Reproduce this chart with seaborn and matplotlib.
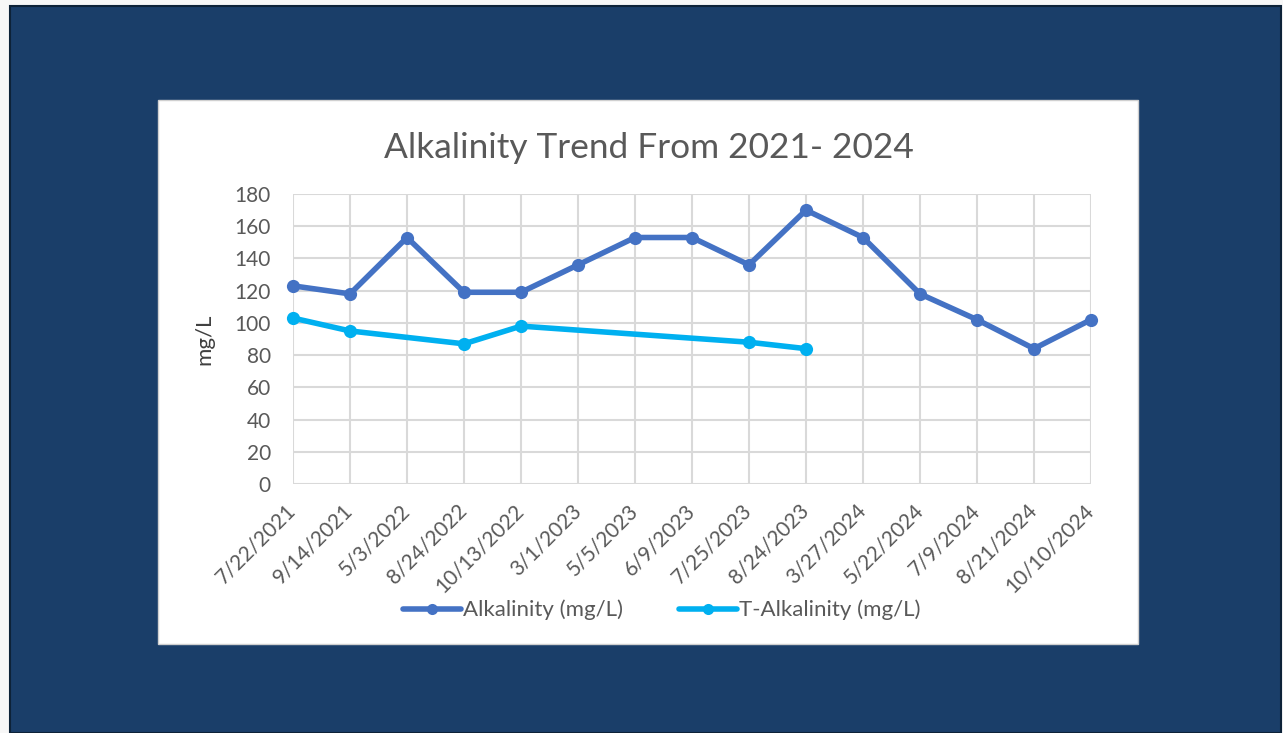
import numpy as np
import pandas as pd
import matplotlib
matplotlib.use("Agg")
import matplotlib.pyplot as plt
from matplotlib.patches import Rectangle
from matplotlib.lines import Line2D
import seaborn as sns

dates = ["7/22/2021", "9/14/2021", "5/3/2022", "8/24/2022", "10/13/2022",
         "3/1/2023", "5/5/2023", "6/9/2023", "7/25/2023", "8/24/2023",
         "3/27/2024", "5/22/2024", "7/9/2024", "8/21/2024", "10/10/2024"]
alkalinity = [123, 118, 153, 119, 119, 136, 153, 153, 136, 170, 153, 118, 102, 84, 102]
t_alkalinity = [103, 95, None, 87, 98, None, None, None, 88, 84, None, None, None, None, None]
y_ticks = [0, 20, 40, 60, 80, 100, 120, 140, 160, 180]

title = "Alkalinity Trend From 2021- 2024"
y_label = "mg/L"
series_names = ["Alkalinity (mg/L)", "T-Alkalinity (mg/L)"]
colors = ["#4472C4", "#00B0F0"]

sns.set_theme(style="white")
plt.rcParams["font.family"] = ["Lato", "DejaVu Sans"]

W, H = 1283, 733
fig = plt.figure(figsize=(W / 100, H / 100), dpi=100)
fig.patch.set_facecolor("#f7f7f7")

# slide background and white chart panel
fig.add_artist(Rectangle((10 / W, 0), (W - 12) / W, (H - 6) / H, transform=fig.transFigure,
                         facecolor="#1a3e69", edgecolor="#0d2238", linewidth=1.5, zorder=0))
fig.add_artist(Rectangle((158 / W, 1 - 644 / H), 980 / W, 544 / H, transform=fig.transFigure,
                         facecolor="white", edgecolor="#d0d0d0", linewidth=1, zorder=0))

ax = fig.add_axes([293 / W, 1 - 484 / H, (1091 - 293) / W, (484 - 194) / H])
ax.set_facecolor("none")

x_pos = np.arange(len(dates))
df_a = pd.DataFrame({"x": x_pos, "value": alkalinity})
t_vals = pd.Series(t_alkalinity, dtype="float")
df_t = pd.DataFrame({"x": x_pos, "value": t_vals}).dropna()

sns.lineplot(data=df_a, x="x", y="value", ax=ax, color=colors[0], linewidth=4,
             marker="o", markersize=9.5, markeredgewidth=0, zorder=4, clip_on=False)
sns.lineplot(data=df_t, x="x", y="value", ax=ax, color=colors[1], linewidth=4,
             marker="o", markersize=9.5, markeredgewidth=0, zorder=3, clip_on=False)

ax.set_xlim(0, len(dates) - 1)
ax.set_ylim(0, 180)
ax.set_yticks(y_ticks)
ax.set_xticks(x_pos)
ax.set_xticklabels(dates, rotation=45, ha="right", va="center", rotation_mode="anchor")
ax.tick_params(axis="both", length=0, labelsize=15, labelcolor="#595959")
ax.tick_params(axis="x", pad=17)
ax.tick_params(axis="y", pad=16)
ax.grid(True, color="#d9d9d9", linewidth=1.5)
for s in ax.spines.values():
    s.set_visible(False)
ax.set_xlabel("")
ax.set_ylabel(y_label, fontsize=16, color="#404040")
ax.yaxis.set_label_coords(-0.098, 0.5)

fig.text(649 / W, 1 - 148 / H, title, ha="center", va="center", fontsize=25.4, color="#595959")

handles = [Line2D([0], [0], color=c, linewidth=4, marker="o", markersize=8, markeredgewidth=0)
           for c in colors]
fig.legend(handles, series_names, loc="center", bbox_to_anchor=(662 / W, 1 - 610 / H),
           ncol=2, frameon=False, fontsize=16, labelcolor="#595959", handlelength=2.6,
           handletextpad=0.1, columnspacing=2.5)

fig.savefig("out.png", dpi=100)
